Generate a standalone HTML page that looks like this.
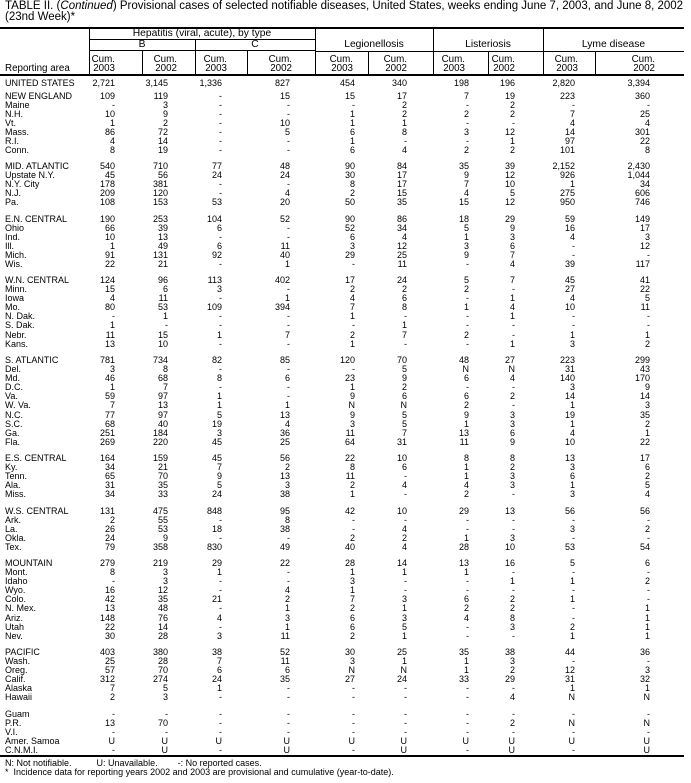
<!DOCTYPE html>
<html><head><meta charset="utf-8"><style>
body{margin:0;background:#fff;width:691px;height:783px;position:relative;overflow:hidden;font-family:"Liberation Sans",Arial,sans-serif;color:#000}
.a{position:absolute;white-space:nowrap}
.t{font-size:11.5px;left:5px}
.h{font-size:10.3px;text-align:center;line-height:10px}
.hc{position:absolute;font-size:9.8px;line-height:9px;text-align:right;top:55px}
.ln{position:absolute;background:#000}
.g{position:absolute;left:0;width:691px;font-size:9px}
.g div{position:relative;height:9.1px;line-height:9.1px}
.g span{position:absolute;top:0;white-space:nowrap}
.g span:first-child{left:5px}
.c1{right:576px}.c2{right:523px}.c3{right:469px}.c4{right:401px}.c5{right:336px}.c6{right:284px}.c7{right:222px}.c8{right:176px}.c9{right:116px}.c10{right:41px}
.f{font-size:9px;left:5px}
</style></head><body>
<div class="a t" style="top:0px">TABLE II. (<i>Continued</i>) Provisional cases of selected notifiable diseases, United States, weeks ending June 7, 2003, and June 8, 2002</div>
<div class="a t" style="top:11px">(23nd Week)*</div>
<div class="ln" style="left:0;top:27px;width:684px;height:2px"></div>
<div class="a h" style="left:89px;width:226px;top:29px">Hepatitis (viral, acute), by type</div>
<div class="ln" style="left:89px;top:39px;width:226px;height:1px"></div>
<div class="a h" style="left:89px;width:106px;top:40px">B</div>
<div class="a h" style="left:195px;width:120px;top:40px">C</div>
<div class="ln" style="left:89px;top:50px;width:226px;height:1px"></div>
<div class="a h" style="left:315px;width:118px;top:40px">Legionellosis</div>
<div class="a h" style="left:433px;width:110px;top:40px">Listeriosis</div>
<div class="a h" style="left:543px;width:141px;top:40px">Lyme disease</div>
<div class="ln" style="left:315px;top:51px;width:369px;height:1px"></div>
<div class="ln" style="left:89px;top:28px;width:1px;height:47px"></div>
<div class="ln" style="left:315px;top:28px;width:1px;height:47px"></div>
<div class="ln" style="left:433px;top:28px;width:1px;height:47px"></div>
<div class="ln" style="left:543px;top:28px;width:1px;height:47px"></div>
<div class="ln" style="left:195px;top:39px;width:1px;height:36px"></div>
<div class="ln" style="left:142px;top:50px;width:1px;height:25px"></div>
<div class="ln" style="left:247px;top:50px;width:1px;height:25px"></div>
<div class="ln" style="left:368px;top:51px;width:1px;height:24px"></div>
<div class="ln" style="left:488px;top:51px;width:1px;height:24px"></div>
<div class="ln" style="left:595px;top:51px;width:1px;height:24px"></div>
<div class="a" style="left:5px;top:63px;font-size:9.8px">Reporting area</div>
<div class="hc" style="right:576px">Cum.<br>2003</div>
<div class="hc" style="right:514px">Cum.<br>2002</div>
<div class="hc" style="right:464px">Cum.<br>2003</div>
<div class="hc" style="right:399px">Cum.<br>2002</div>
<div class="hc" style="right:338px">Cum.<br>2003</div>
<div class="hc" style="right:284px">Cum.<br>2002</div>
<div class="hc" style="right:226px">Cum.<br>2003</div>
<div class="hc" style="right:176px">Cum.<br>2002</div>
<div class="hc" style="right:113px">Cum.<br>2003</div>
<div class="hc" style="right:36px">Cum.<br>2002</div>
<div class="ln" style="left:0;top:74px;width:684px;height:2px"></div>
<div class="g" style="top:78.5px">
<div><span>UNITED STATES</span><span class="c1">2,721</span><span class="c2">3,145</span><span class="c3">1,336</span><span class="c4">827</span><span class="c5">454</span><span class="c6">340</span><span class="c7">198</span><span class="c8">196</span><span class="c9">2,820</span><span class="c10">3,394</span></div>
</div>
<div class="g" style="top:91.5px">
<div><span>NEW ENGLAND</span><span class="c1">109</span><span class="c2">119</span><span class="c3">-</span><span class="c4">15</span><span class="c5">15</span><span class="c6">17</span><span class="c7">7</span><span class="c8">19</span><span class="c9">223</span><span class="c10">360</span></div>
<div><span>Maine</span><span class="c1">-</span><span class="c2">3</span><span class="c3">-</span><span class="c4">-</span><span class="c5">-</span><span class="c6">2</span><span class="c7">-</span><span class="c8">2</span><span class="c9">-</span><span class="c10">-</span></div>
<div><span>N.H.</span><span class="c1">10</span><span class="c2">9</span><span class="c3">-</span><span class="c4">-</span><span class="c5">1</span><span class="c6">2</span><span class="c7">2</span><span class="c8">2</span><span class="c9">7</span><span class="c10">25</span></div>
<div><span>Vt.</span><span class="c1">1</span><span class="c2">2</span><span class="c3">-</span><span class="c4">10</span><span class="c5">1</span><span class="c6">1</span><span class="c7">-</span><span class="c8">-</span><span class="c9">4</span><span class="c10">4</span></div>
<div><span>Mass.</span><span class="c1">86</span><span class="c2">72</span><span class="c3">-</span><span class="c4">5</span><span class="c5">6</span><span class="c6">8</span><span class="c7">3</span><span class="c8">12</span><span class="c9">14</span><span class="c10">301</span></div>
<div><span>R.I.</span><span class="c1">4</span><span class="c2">14</span><span class="c3">-</span><span class="c4">-</span><span class="c5">1</span><span class="c6">-</span><span class="c7">-</span><span class="c8">1</span><span class="c9">97</span><span class="c10">22</span></div>
<div><span>Conn.</span><span class="c1">8</span><span class="c2">19</span><span class="c3">-</span><span class="c4">-</span><span class="c5">6</span><span class="c6">4</span><span class="c7">2</span><span class="c8">2</span><span class="c9">101</span><span class="c10">8</span></div>
</div>
<div class="g" style="top:162px">
<div><span>MID. ATLANTIC</span><span class="c1">540</span><span class="c2">710</span><span class="c3">77</span><span class="c4">48</span><span class="c5">90</span><span class="c6">84</span><span class="c7">35</span><span class="c8">39</span><span class="c9">2,152</span><span class="c10">2,430</span></div>
<div><span>Upstate N.Y.</span><span class="c1">45</span><span class="c2">56</span><span class="c3">24</span><span class="c4">24</span><span class="c5">30</span><span class="c6">17</span><span class="c7">9</span><span class="c8">12</span><span class="c9">926</span><span class="c10">1,044</span></div>
<div><span>N.Y. City</span><span class="c1">178</span><span class="c2">381</span><span class="c3">-</span><span class="c4">-</span><span class="c5">8</span><span class="c6">17</span><span class="c7">7</span><span class="c8">10</span><span class="c9">1</span><span class="c10">34</span></div>
<div><span>N.J.</span><span class="c1">209</span><span class="c2">120</span><span class="c3">-</span><span class="c4">4</span><span class="c5">2</span><span class="c6">15</span><span class="c7">4</span><span class="c8">5</span><span class="c9">275</span><span class="c10">606</span></div>
<div><span>Pa.</span><span class="c1">108</span><span class="c2">153</span><span class="c3">53</span><span class="c4">20</span><span class="c5">50</span><span class="c6">35</span><span class="c7">15</span><span class="c8">12</span><span class="c9">950</span><span class="c10">746</span></div>
</div>
<div class="g" style="top:214.5px">
<div><span>E.N. CENTRAL</span><span class="c1">190</span><span class="c2">253</span><span class="c3">104</span><span class="c4">52</span><span class="c5">90</span><span class="c6">86</span><span class="c7">18</span><span class="c8">29</span><span class="c9">59</span><span class="c10">149</span></div>
<div><span>Ohio</span><span class="c1">66</span><span class="c2">39</span><span class="c3">6</span><span class="c4">-</span><span class="c5">52</span><span class="c6">34</span><span class="c7">5</span><span class="c8">9</span><span class="c9">16</span><span class="c10">17</span></div>
<div><span>Ind.</span><span class="c1">10</span><span class="c2">13</span><span class="c3">-</span><span class="c4">-</span><span class="c5">6</span><span class="c6">4</span><span class="c7">1</span><span class="c8">3</span><span class="c9">4</span><span class="c10">3</span></div>
<div><span>Ill.</span><span class="c1">1</span><span class="c2">49</span><span class="c3">6</span><span class="c4">11</span><span class="c5">3</span><span class="c6">12</span><span class="c7">3</span><span class="c8">6</span><span class="c9">-</span><span class="c10">12</span></div>
<div><span>Mich.</span><span class="c1">91</span><span class="c2">131</span><span class="c3">92</span><span class="c4">40</span><span class="c5">29</span><span class="c6">25</span><span class="c7">9</span><span class="c8">7</span><span class="c9">-</span><span class="c10">-</span></div>
<div><span>Wis.</span><span class="c1">22</span><span class="c2">21</span><span class="c3">-</span><span class="c4">1</span><span class="c5">-</span><span class="c6">11</span><span class="c7">-</span><span class="c8">4</span><span class="c9">39</span><span class="c10">117</span></div>
</div>
<div class="g" style="top:276px">
<div><span>W.N. CENTRAL</span><span class="c1">124</span><span class="c2">96</span><span class="c3">113</span><span class="c4">402</span><span class="c5">17</span><span class="c6">24</span><span class="c7">5</span><span class="c8">7</span><span class="c9">45</span><span class="c10">41</span></div>
<div><span>Minn.</span><span class="c1">15</span><span class="c2">6</span><span class="c3">3</span><span class="c4">-</span><span class="c5">2</span><span class="c6">2</span><span class="c7">2</span><span class="c8">-</span><span class="c9">27</span><span class="c10">22</span></div>
<div><span>Iowa</span><span class="c1">4</span><span class="c2">11</span><span class="c3">-</span><span class="c4">1</span><span class="c5">4</span><span class="c6">6</span><span class="c7">-</span><span class="c8">1</span><span class="c9">4</span><span class="c10">5</span></div>
<div><span>Mo.</span><span class="c1">80</span><span class="c2">53</span><span class="c3">109</span><span class="c4">394</span><span class="c5">7</span><span class="c6">8</span><span class="c7">1</span><span class="c8">4</span><span class="c9">10</span><span class="c10">11</span></div>
<div><span>N. Dak.</span><span class="c1">-</span><span class="c2">1</span><span class="c3">-</span><span class="c4">-</span><span class="c5">1</span><span class="c6">-</span><span class="c7">-</span><span class="c8">1</span><span class="c9">-</span><span class="c10">-</span></div>
<div><span>S. Dak.</span><span class="c1">1</span><span class="c2">-</span><span class="c3">-</span><span class="c4">-</span><span class="c5">-</span><span class="c6">1</span><span class="c7">-</span><span class="c8">-</span><span class="c9">-</span><span class="c10">-</span></div>
<div><span>Nebr.</span><span class="c1">11</span><span class="c2">15</span><span class="c3">1</span><span class="c4">7</span><span class="c5">2</span><span class="c6">7</span><span class="c7">2</span><span class="c8">-</span><span class="c9">1</span><span class="c10">1</span></div>
<div><span>Kans.</span><span class="c1">13</span><span class="c2">10</span><span class="c3">-</span><span class="c4">-</span><span class="c5">1</span><span class="c6">-</span><span class="c7">-</span><span class="c8">1</span><span class="c9">3</span><span class="c10">2</span></div>
</div>
<div class="g" style="top:356px">
<div><span>S. ATLANTIC</span><span class="c1">781</span><span class="c2">734</span><span class="c3">82</span><span class="c4">85</span><span class="c5">120</span><span class="c6">70</span><span class="c7">48</span><span class="c8">27</span><span class="c9">223</span><span class="c10">299</span></div>
<div><span>Del.</span><span class="c1">3</span><span class="c2">8</span><span class="c3">-</span><span class="c4">-</span><span class="c5">-</span><span class="c6">5</span><span class="c7">N</span><span class="c8">N</span><span class="c9">31</span><span class="c10">43</span></div>
<div><span>Md.</span><span class="c1">46</span><span class="c2">68</span><span class="c3">8</span><span class="c4">6</span><span class="c5">23</span><span class="c6">9</span><span class="c7">6</span><span class="c8">4</span><span class="c9">140</span><span class="c10">170</span></div>
<div><span>D.C.</span><span class="c1">1</span><span class="c2">7</span><span class="c3">-</span><span class="c4">-</span><span class="c5">1</span><span class="c6">2</span><span class="c7">-</span><span class="c8">-</span><span class="c9">3</span><span class="c10">9</span></div>
<div><span>Va.</span><span class="c1">59</span><span class="c2">97</span><span class="c3">1</span><span class="c4">-</span><span class="c5">9</span><span class="c6">6</span><span class="c7">6</span><span class="c8">2</span><span class="c9">14</span><span class="c10">14</span></div>
<div><span>W. Va.</span><span class="c1">7</span><span class="c2">13</span><span class="c3">1</span><span class="c4">1</span><span class="c5">N</span><span class="c6">N</span><span class="c7">2</span><span class="c8">-</span><span class="c9">1</span><span class="c10">3</span></div>
<div><span>N.C.</span><span class="c1">77</span><span class="c2">97</span><span class="c3">5</span><span class="c4">13</span><span class="c5">9</span><span class="c6">5</span><span class="c7">9</span><span class="c8">3</span><span class="c9">19</span><span class="c10">35</span></div>
<div><span>S.C.</span><span class="c1">68</span><span class="c2">40</span><span class="c3">19</span><span class="c4">4</span><span class="c5">3</span><span class="c6">5</span><span class="c7">1</span><span class="c8">3</span><span class="c9">1</span><span class="c10">2</span></div>
<div><span>Ga.</span><span class="c1">251</span><span class="c2">184</span><span class="c3">3</span><span class="c4">36</span><span class="c5">11</span><span class="c6">7</span><span class="c7">13</span><span class="c8">6</span><span class="c9">4</span><span class="c10">1</span></div>
<div><span>Fla.</span><span class="c1">269</span><span class="c2">220</span><span class="c3">45</span><span class="c4">25</span><span class="c5">64</span><span class="c6">31</span><span class="c7">11</span><span class="c8">9</span><span class="c9">10</span><span class="c10">22</span></div>
</div>
<div class="g" style="top:454px">
<div><span>E.S. CENTRAL</span><span class="c1">164</span><span class="c2">159</span><span class="c3">45</span><span class="c4">56</span><span class="c5">22</span><span class="c6">10</span><span class="c7">8</span><span class="c8">8</span><span class="c9">13</span><span class="c10">17</span></div>
<div><span>Ky.</span><span class="c1">34</span><span class="c2">21</span><span class="c3">7</span><span class="c4">2</span><span class="c5">8</span><span class="c6">6</span><span class="c7">1</span><span class="c8">2</span><span class="c9">3</span><span class="c10">6</span></div>
<div><span>Tenn.</span><span class="c1">65</span><span class="c2">70</span><span class="c3">9</span><span class="c4">13</span><span class="c5">11</span><span class="c6">-</span><span class="c7">1</span><span class="c8">3</span><span class="c9">6</span><span class="c10">2</span></div>
<div><span>Ala.</span><span class="c1">31</span><span class="c2">35</span><span class="c3">5</span><span class="c4">3</span><span class="c5">2</span><span class="c6">4</span><span class="c7">4</span><span class="c8">3</span><span class="c9">1</span><span class="c10">5</span></div>
<div><span>Miss.</span><span class="c1">34</span><span class="c2">33</span><span class="c3">24</span><span class="c4">38</span><span class="c5">1</span><span class="c6">-</span><span class="c7">2</span><span class="c8">-</span><span class="c9">3</span><span class="c10">4</span></div>
</div>
<div class="g" style="top:506.5px">
<div><span>W.S. CENTRAL</span><span class="c1">131</span><span class="c2">475</span><span class="c3">848</span><span class="c4">95</span><span class="c5">42</span><span class="c6">10</span><span class="c7">29</span><span class="c8">13</span><span class="c9">56</span><span class="c10">56</span></div>
<div><span>Ark.</span><span class="c1">2</span><span class="c2">55</span><span class="c3">-</span><span class="c4">8</span><span class="c5">-</span><span class="c6">-</span><span class="c7">-</span><span class="c8">-</span><span class="c9">-</span><span class="c10">-</span></div>
<div><span>La.</span><span class="c1">26</span><span class="c2">53</span><span class="c3">18</span><span class="c4">38</span><span class="c5">-</span><span class="c6">4</span><span class="c7">-</span><span class="c8">-</span><span class="c9">3</span><span class="c10">2</span></div>
<div><span>Okla.</span><span class="c1">24</span><span class="c2">9</span><span class="c3">-</span><span class="c4">-</span><span class="c5">2</span><span class="c6">2</span><span class="c7">1</span><span class="c8">3</span><span class="c9">-</span><span class="c10">-</span></div>
<div><span>Tex.</span><span class="c1">79</span><span class="c2">358</span><span class="c3">830</span><span class="c4">49</span><span class="c5">40</span><span class="c6">4</span><span class="c7">28</span><span class="c8">10</span><span class="c9">53</span><span class="c10">54</span></div>
</div>
<div class="g" style="top:559px">
<div><span>MOUNTAIN</span><span class="c1">279</span><span class="c2">219</span><span class="c3">29</span><span class="c4">22</span><span class="c5">28</span><span class="c6">14</span><span class="c7">13</span><span class="c8">16</span><span class="c9">5</span><span class="c10">6</span></div>
<div><span>Mont.</span><span class="c1">8</span><span class="c2">3</span><span class="c3">1</span><span class="c4">-</span><span class="c5">1</span><span class="c6">1</span><span class="c7">1</span><span class="c8">-</span><span class="c9">-</span><span class="c10">-</span></div>
<div><span>Idaho</span><span class="c1">-</span><span class="c2">3</span><span class="c3">-</span><span class="c4">-</span><span class="c5">3</span><span class="c6">-</span><span class="c7">-</span><span class="c8">1</span><span class="c9">1</span><span class="c10">2</span></div>
<div><span>Wyo.</span><span class="c1">16</span><span class="c2">12</span><span class="c3">-</span><span class="c4">4</span><span class="c5">1</span><span class="c6">-</span><span class="c7">-</span><span class="c8">-</span><span class="c9">-</span><span class="c10">-</span></div>
<div><span>Colo.</span><span class="c1">42</span><span class="c2">35</span><span class="c3">21</span><span class="c4">2</span><span class="c5">7</span><span class="c6">3</span><span class="c7">6</span><span class="c8">2</span><span class="c9">1</span><span class="c10">-</span></div>
<div><span>N. Mex.</span><span class="c1">13</span><span class="c2">48</span><span class="c3">-</span><span class="c4">1</span><span class="c5">2</span><span class="c6">1</span><span class="c7">2</span><span class="c8">2</span><span class="c9">-</span><span class="c10">1</span></div>
<div><span>Ariz.</span><span class="c1">148</span><span class="c2">76</span><span class="c3">4</span><span class="c4">3</span><span class="c5">6</span><span class="c6">3</span><span class="c7">4</span><span class="c8">8</span><span class="c9">-</span><span class="c10">1</span></div>
<div><span>Utah</span><span class="c1">22</span><span class="c2">14</span><span class="c3">-</span><span class="c4">1</span><span class="c5">6</span><span class="c6">5</span><span class="c7">-</span><span class="c8">3</span><span class="c9">2</span><span class="c10">1</span></div>
<div><span>Nev.</span><span class="c1">30</span><span class="c2">28</span><span class="c3">3</span><span class="c4">11</span><span class="c5">2</span><span class="c6">1</span><span class="c7">-</span><span class="c8">-</span><span class="c9">1</span><span class="c10">1</span></div>
</div>
<div class="g" style="top:648px">
<div><span>PACIFIC</span><span class="c1">403</span><span class="c2">380</span><span class="c3">38</span><span class="c4">52</span><span class="c5">30</span><span class="c6">25</span><span class="c7">35</span><span class="c8">38</span><span class="c9">44</span><span class="c10">36</span></div>
<div><span>Wash.</span><span class="c1">25</span><span class="c2">28</span><span class="c3">7</span><span class="c4">11</span><span class="c5">3</span><span class="c6">1</span><span class="c7">1</span><span class="c8">3</span><span class="c9">-</span><span class="c10">-</span></div>
<div><span>Oreg.</span><span class="c1">57</span><span class="c2">70</span><span class="c3">6</span><span class="c4">6</span><span class="c5">N</span><span class="c6">N</span><span class="c7">1</span><span class="c8">2</span><span class="c9">12</span><span class="c10">3</span></div>
<div><span>Calif.</span><span class="c1">312</span><span class="c2">274</span><span class="c3">24</span><span class="c4">35</span><span class="c5">27</span><span class="c6">24</span><span class="c7">33</span><span class="c8">29</span><span class="c9">31</span><span class="c10">32</span></div>
<div><span>Alaska</span><span class="c1">7</span><span class="c2">5</span><span class="c3">1</span><span class="c4">-</span><span class="c5">-</span><span class="c6">-</span><span class="c7">-</span><span class="c8">-</span><span class="c9">1</span><span class="c10">1</span></div>
<div><span>Hawaii</span><span class="c1">2</span><span class="c2">3</span><span class="c3">-</span><span class="c4">-</span><span class="c5">-</span><span class="c6">-</span><span class="c7">-</span><span class="c8">4</span><span class="c9">N</span><span class="c10">N</span></div>
</div>
<div class="g" style="top:709.5px">
<div><span>Guam</span><span class="c1">-</span><span class="c2">-</span><span class="c3">-</span><span class="c4">-</span><span class="c5">-</span><span class="c6">-</span><span class="c7">-</span><span class="c8">-</span><span class="c9">-</span><span class="c10">-</span></div>
<div><span>P.R.</span><span class="c1">13</span><span class="c2">70</span><span class="c3">-</span><span class="c4">-</span><span class="c5">-</span><span class="c6">-</span><span class="c7">-</span><span class="c8">2</span><span class="c9">N</span><span class="c10">N</span></div>
<div><span>V.I.</span><span class="c1">-</span><span class="c2">-</span><span class="c3">-</span><span class="c4">-</span><span class="c5">-</span><span class="c6">-</span><span class="c7">-</span><span class="c8">-</span><span class="c9">-</span><span class="c10">-</span></div>
<div><span>Amer. Samoa</span><span class="c1">U</span><span class="c2">U</span><span class="c3">U</span><span class="c4">U</span><span class="c5">U</span><span class="c6">U</span><span class="c7">U</span><span class="c8">U</span><span class="c9">U</span><span class="c10">U</span></div>
<div><span>C.N.M.I.</span><span class="c1">-</span><span class="c2">U</span><span class="c3">-</span><span class="c4">U</span><span class="c5">-</span><span class="c6">U</span><span class="c7">-</span><span class="c8">U</span><span class="c9">-</span><span class="c10">U</span></div>
</div>
<div class="ln" style="left:0;top:755px;width:684px;height:2px"></div>
<div class="a f" style="top:758px">N: Not notifiable.&nbsp;&nbsp;&nbsp;&nbsp;&nbsp;&nbsp;&nbsp;&nbsp;&nbsp;&nbsp;U: Unavailable.&nbsp;&nbsp;&nbsp;&nbsp;&nbsp;&nbsp;&nbsp;&nbsp;-: No reported cases.</div>
<div class="a f" style="top:767px">*&nbsp;&nbsp;Incidence data for reporting years 2002 and 2003 are provisional and cumulative (year-to-date).</div>
</body></html>
